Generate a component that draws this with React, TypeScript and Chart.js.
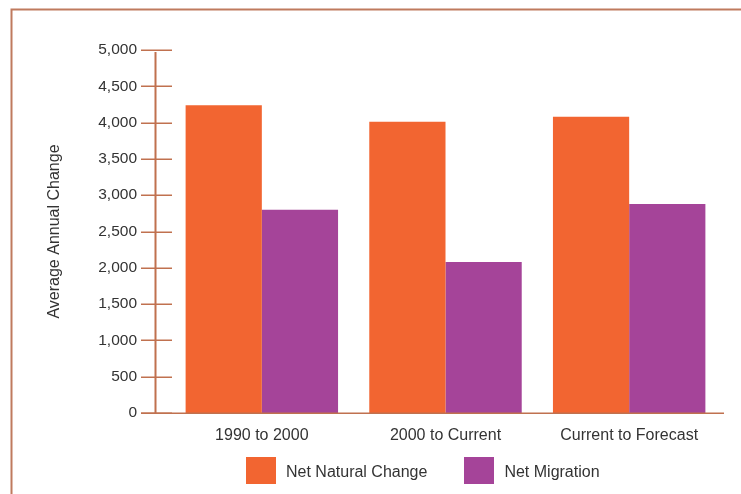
import React, { useEffect, useRef } from "react";
import { Chart, registerables } from "chart.js";

Chart.register(...registerables);

const categories = ["1990 to 2000", "2000 to Current", "Current to Forecast"];
const netNaturalChange = [4240, 4010, 4080];
const netMigration = [2800, 2080, 2880];
const seriesNames = ["Net Natural Change", "Net Migration"];
const seriesColors = ["#F26531", "#A54499"];
const yTickValues = [0, 500, 1000, 1500, 2000, 2500, 3000, 3500, 4000, 4500, 5000];

const FONT = "Liberation Sans, Arial, Helvetica, sans-serif";
const AXIS_COLOR = "#c0714f";
const TEXT_COLOR = "#333333";

const decorPlugin = {
  id: "decor",
  afterDraw(chart: any) {
    const { ctx, chartArea } = chart;
    const y = chart.scales.y;
    ctx.save();
    // frame (top + left)
    ctx.strokeStyle = "#bf7a5e";
    ctx.lineWidth = 2;
    ctx.beginPath();
    ctx.moveTo(11.5, 494);
    ctx.lineTo(11.5, 9.5);
    ctx.lineTo(741, 9.5);
    ctx.stroke();

    const axisX = chartArea.left - 14.5;
    const y0 = y.getPixelForValue(0);
    const yMax = y.getPixelForValue(5000);
    // y axis line
    ctx.strokeStyle = AXIS_COLOR;
    ctx.lineWidth = 2;
    ctx.beginPath();
    ctx.moveTo(axisX, yMax + 2);
    ctx.lineTo(axisX, y0);
    ctx.stroke();
    // tick marks
    ctx.lineWidth = 1.5;
    for (const v of yTickValues) {
      const py = Math.round(y.getPixelForValue(v)) + 0.25;
      ctx.beginPath();
      ctx.moveTo(chartArea.left - 29, py);
      ctx.lineTo(chartArea.left + 2, py);
      ctx.stroke();
    }
    // x axis line
    ctx.lineWidth = 1.5;
    ctx.beginPath();
    ctx.moveTo(chartArea.left - 29, Math.round(y0) + 0.25);
    ctx.lineTo(chartArea.right + 3, Math.round(y0) + 0.25);
    ctx.stroke();

    // legend
    ctx.font = `16px ${FONT}`;
    ctx.textBaseline = "middle";
    ctx.textAlign = "left";
    const boxW = 30;
    const boxH = 27;
    const textGap = 10;
    const itemGap = 37;
    const widths = seriesNames.map((n) => ctx.measureText(n).width);
    let x = 246;
    const cy = 472;
    seriesNames.forEach((n, i) => {
      ctx.fillStyle = seriesColors[i];
      ctx.fillRect(Math.round(x), 457, boxW, boxH);
      ctx.fillStyle = TEXT_COLOR;
      ctx.fillText(n, x + boxW + textGap, cy + 1);
      x += boxW + textGap + widths[i] + itemGap;
    });
    ctx.restore();
  },
};

export default function App() {
  const ref = useRef<HTMLCanvasElement>(null);
  useEffect(() => {
    if (!ref.current) return;
    const chart = new Chart(ref.current, {
      type: "bar",
      data: {
        labels: categories,
        datasets: [
          {
            label: seriesNames[0],
            data: netNaturalChange,
            backgroundColor: seriesColors[0],
            categoryPercentage: 0.83,
            barPercentage: 1,
          },
          {
            label: seriesNames[1],
            data: netMigration,
            backgroundColor: seriesColors[1],
            categoryPercentage: 0.83,
            barPercentage: 1,
          },
        ],
      },
      options: {
        responsive: false,
        animation: false,
        layout: { padding: { top: 50, right: 20, left: 0, bottom: 0 } },
        plugins: { legend: { display: false }, tooltip: { enabled: false } },
        scales: {
          x: {
            grid: { display: false, drawTicks: false },
            border: { display: false },
            ticks: { color: TEXT_COLOR, font: { family: FONT, size: 16 }, padding: 13, maxRotation: 0 },
            afterFit: (s: any) => {
              s.height = 81;
            },
          },
          y: {
            min: 0,
            max: 5000,
            grid: { display: false, drawTicks: false },
            border: { display: false },
            ticks: { stepSize: 500, color: TEXT_COLOR, font: { family: FONT, size: 15.5 }, padding: 33 },
            title: {
              display: true,
              text: "Average Annual Change",
              color: TEXT_COLOR,
              font: { family: FONT, size: 16 },
              padding: { top: 45, bottom: 0 },
            },
            afterFit: (s: any) => {
              s.width = 170;
            },
          },
        },
      },
      plugins: [decorPlugin],
    });
    return () => chart.destroy();
  }, []);
  return (
    <div style={{ position: "fixed", left: 0, top: 0, width: 741, height: 494, background: "#fff" }}>
      <canvas ref={ref} width={741} height={494} style={{ display: "block" }} />
    </div>
  );
}
